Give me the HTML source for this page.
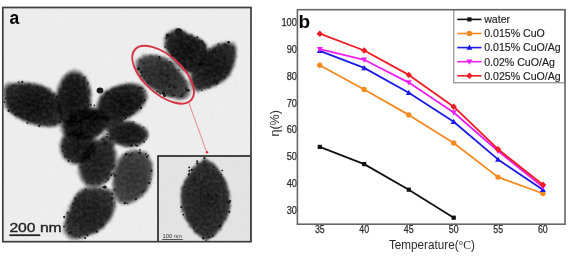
<!DOCTYPE html>
<html><head><meta charset="utf-8">
<style>
html,body{margin:0;padding:0;background:#fff;width:575px;height:258px;overflow:hidden;}
svg{display:block;will-change:transform;}
text{font-family:"Liberation Sans",sans-serif;}
</style></head>
<body>
<svg width="575" height="258" viewBox="0 0 575 258">
<defs>
<clipPath id="temclip"><rect x="2.8" y="7.5" width="248" height="234"/></clipPath>
<clipPath id="insclip"><rect x="158" y="156" width="93" height="86"/></clipPath>
<filter id="pb" color-interpolation-filters="sRGB" filterUnits="userSpaceOnUse" x="0" y="0" width="260" height="250"><feTurbulence type="fractalNoise" baseFrequency="0.35" numOctaves="2" seed="4" result="dn"/><feDisplacementMap in="SourceGraphic" in2="dn" scale="4" xChannelSelector="R" yChannelSelector="G" result="disp"/><feGaussianBlur in="disp" stdDeviation="1.0" result="bl"/><feTurbulence type="fractalNoise" baseFrequency="0.3" numOctaves="2" seed="11" result="tn"/><feColorMatrix in="tn" type="matrix" values="0 0 0 0 1  0 0 0 0 1  0 0 0 0 1  0.22 0 0 0 -0.08" result="wn"/><feComposite in="wn" in2="bl" operator="atop"/></filter>
<filter id="hb" color-interpolation-filters="sRGB" filterUnits="userSpaceOnUse" x="0" y="0" width="260" height="250"><feTurbulence type="fractalNoise" baseFrequency="0.5" numOctaves="2" seed="9" result="dn"/><feDisplacementMap in="SourceGraphic" in2="dn" scale="5" xChannelSelector="R" yChannelSelector="G" result="disp"/><feGaussianBlur in="disp" stdDeviation="1.2"/></filter>
<filter id="db" x="-50%" y="-50%" width="200%" height="200%"><feGaussianBlur stdDeviation="0.45"/></filter>
<filter id="noise" x="0" y="0" width="100%" height="100%"><feTurbulence type="fractalNoise" baseFrequency="0.9" numOctaves="2" seed="3"/><feColorMatrix type="matrix" values="0 0 0 0 0  0 0 0 0 0  0 0 0 0 0  0.33 0.33 0.33 0 -0.45"/></filter>
<radialGradient id="gA" cx="0.5" cy="0.5" r="0.5"><stop offset="0" stop-color="#0a0a0a"/><stop offset="0.75" stop-color="#161616"/><stop offset="1" stop-color="#222222"/></radialGradient>
<radialGradient id="gB" cx="0.5" cy="0.5" r="0.5"><stop offset="0" stop-color="#0a0a0a"/><stop offset="0.75" stop-color="#161616"/><stop offset="1" stop-color="#222222"/></radialGradient>
<radialGradient id="gM" cx="0.5" cy="0.5" r="0.5"><stop offset="0" stop-color="#0c0c0c"/><stop offset="0.75" stop-color="#131313"/><stop offset="1" stop-color="#1a1a1a"/></radialGradient>
<radialGradient id="gM2" cx="0.5" cy="0.5" r="0.5"><stop offset="0" stop-color="#101010"/><stop offset="0.75" stop-color="#181818"/><stop offset="1" stop-color="#202020"/></radialGradient>
<radialGradient id="gM3" cx="0.5" cy="0.5" r="0.5"><stop offset="0" stop-color="#303030"/><stop offset="0.75" stop-color="#404040"/><stop offset="1" stop-color="#505050"/></radialGradient>
<radialGradient id="gD" cx="0.5" cy="0.5" r="0.5"><stop offset="0" stop-color="#0a0a0a"/><stop offset="0.75" stop-color="#161616"/><stop offset="1" stop-color="#222222"/></radialGradient>
<radialGradient id="gH" cx="0.5" cy="0.5" r="0.5"><stop offset="0" stop-color="#0e0e0e"/><stop offset="0.75" stop-color="#1a1a1a"/><stop offset="1" stop-color="#262626"/></radialGradient>
<radialGradient id="gC" cx="0.5" cy="0.5" r="0.5"><stop offset="0" stop-color="#101010"/><stop offset="0.75" stop-color="#1b1b1b"/><stop offset="1" stop-color="#262626"/></radialGradient>
<radialGradient id="gE" cx="0.5" cy="0.5" r="0.5"><stop offset="0" stop-color="#161616"/><stop offset="0.75" stop-color="#212121"/><stop offset="1" stop-color="#2c2c2c"/></radialGradient>
<radialGradient id="gG" cx="0.5" cy="0.5" r="0.5"><stop offset="0" stop-color="#2c2c2c"/><stop offset="0.75" stop-color="#373737"/><stop offset="1" stop-color="#424242"/></radialGradient>
<radialGradient id="gF" cx="0.5" cy="0.5" r="0.5"><stop offset="0" stop-color="#161616"/><stop offset="0.75" stop-color="#212121"/><stop offset="1" stop-color="#2c2c2c"/></radialGradient>
<radialGradient id="gP1" cx="0.5" cy="0.5" r="0.5"><stop offset="0" stop-color="#242424"/><stop offset="0.75" stop-color="#2f2f2f"/><stop offset="1" stop-color="#3a3a3a"/></radialGradient>
<radialGradient id="gP2" cx="0.5" cy="0.5" r="0.5"><stop offset="0" stop-color="#0a0a0a"/><stop offset="0.75" stop-color="#161616"/><stop offset="1" stop-color="#222222"/></radialGradient>
<radialGradient id="gP3" cx="0.5" cy="0.5" r="0.5"><stop offset="0" stop-color="#0e0e0e"/><stop offset="0.75" stop-color="#1a1a1a"/><stop offset="1" stop-color="#262626"/></radialGradient>
<radialGradient id="gIN" cx="0.5" cy="0.5" r="0.5"><stop offset="0" stop-color="#1a1a1a"/><stop offset="0.75" stop-color="#242424"/><stop offset="1" stop-color="#3a3a3a"/></radialGradient>
</defs>

<!-- ===== TEM panel (a) ===== -->
<rect x="2.8" y="7.5" width="248" height="234" fill="#eeeeee"/>
<g clip-path="url(#temclip)">
<g filter="url(#hb)" style="isolation:isolate" opacity="0.85">
<path d="M4.5,92 C4,86 10,83.5 18,83.5 C30,83 44,85 52,92 C60,99 64,110 62,120 C60,127 50,126.5 40,125 C28,123 16,118 9,110 C5,104 4.5,98 4.5,92 Z" transform="translate(34 105) scale(1.08) translate(-34 -105)" fill="#7a7a7a" style="mix-blend-mode:multiply"/>
<ellipse cx="73.7" cy="100" rx="18.5" ry="30.5" transform="rotate(1.5 73.7 100)" fill="#7a7a7a" style="mix-blend-mode:multiply"/>
<ellipse cx="86" cy="124" rx="26.2" ry="16.7" transform="rotate(-15 86 124)" fill="#7a7a7a" style="mix-blend-mode:multiply"/>
<ellipse cx="93" cy="117" rx="9.3" ry="8.2" transform="rotate(0 93 117)" fill="#7a7a7a" style="mix-blend-mode:multiply"/>
<ellipse cx="108" cy="141" rx="8.2" ry="6.1" transform="rotate(20 108 141)" fill="#7a7a7a" style="mix-blend-mode:multiply"/>
<path d="M98.1,104.1 C98.6,100.9 100.5,97.8 102.4,95.3 C104.4,92.9 107.0,91.1 109.7,89.5 C112.4,88.0 115.3,86.9 118.4,86.0 C121.6,85.2 125.5,84.4 128.6,84.3 C131.8,84.2 134.9,84.3 137.3,85.2 C139.7,86.0 141.7,87.6 143.1,89.5 C144.6,91.5 146.0,94.4 146.0,96.8 C146.0,99.2 144.4,101.9 143.1,104.1 C141.9,106.2 140.7,107.9 138.8,109.9 C136.8,111.8 134.2,114.0 131.5,115.7 C128.8,117.4 125.7,118.8 122.8,120.1 C119.9,121.3 117.0,122.6 114.1,123.0 C111.2,123.3 107.8,123.5 105.3,122.1 C102.9,120.6 100.7,117.2 99.5,114.2 C98.3,111.2 97.6,107.2 98.1,104.1 Z" transform="translate(118.5 104.5) scale(1.08) translate(-118.5 -104.5)" fill="#7a7a7a" style="mix-blend-mode:multiply"/>
<path d="M108.3,125.9 C109.7,123.9 113.6,122.2 117.0,121.5 C120.4,120.8 125.2,121.0 128.6,121.5 C132.0,122.0 134.7,123.2 137.3,124.4 C140.0,125.6 142.9,127.1 144.6,128.8 C146.3,130.5 147.5,132.7 147.5,134.6 C147.5,136.5 146.3,138.7 144.6,140.4 C142.9,142.1 140.0,143.8 137.3,144.8 C134.7,145.7 131.5,146.2 128.6,146.2 C125.7,146.2 122.5,145.7 119.9,144.8 C117.2,143.8 114.6,142.3 112.6,140.4 C110.7,138.5 109.0,135.6 108.3,133.1 C107.5,130.7 106.8,127.8 108.3,125.9 Z" transform="translate(126.6 133.5) scale(1.08) translate(-126.6 -133.5)" fill="#7a7a7a" style="mix-blend-mode:multiply"/>
<ellipse cx="78.5" cy="146.5" rx="19.4" ry="18.8" transform="rotate(0 78.5 146.5)" fill="#7a7a7a" style="mix-blend-mode:multiply"/>
<ellipse cx="97.5" cy="163" rx="19.1" ry="25.8" transform="rotate(19.6 97.5 163)" fill="#7a7a7a" style="mix-blend-mode:multiply"/>
<path d="M140.7,152.2 C143.7,152.9 145.7,153.8 147.5,156.3 C149.3,158.8 151.1,163.1 151.6,167.2 C152.0,171.2 151.4,176.7 150.2,180.7 C149.1,184.8 147.3,188.4 144.8,191.6 C142.3,194.8 138.7,197.9 135.3,199.7 C131.9,201.5 127.6,202.9 124.4,202.4 C121.3,202.0 118.1,200.6 116.3,197.0 C114.5,193.4 113.1,186.8 113.6,180.7 C114.0,174.6 116.3,165.1 119.0,160.4 C121.7,155.6 126.2,153.6 129.9,152.2 C133.5,150.9 137.8,151.5 140.7,152.2 Z" transform="translate(132 176.5) scale(1.08) translate(-132 -176.5)" fill="#7a7a7a" style="mix-blend-mode:multiply"/>
<path d="M80.2,191.3 C82.3,189.9 84.8,189.2 87.7,188.8 C90.7,188.4 94.5,188.6 97.8,188.8 C101.2,189.0 105.4,189.0 107.9,190.1 C110.4,191.1 111.9,192.6 112.9,195.1 C114.0,197.6 114.4,201.8 114.2,205.2 C114.0,208.5 112.9,212.3 111.7,215.3 C110.4,218.2 108.5,220.5 106.6,222.8 C104.7,225.1 102.6,227.4 100.3,229.1 C98.0,230.8 95.7,231.6 92.8,232.9 C89.8,234.2 85.9,235.8 82.7,236.7 C79.6,237.5 76.4,238.4 73.9,237.9 C71.4,237.5 69.1,235.8 67.6,234.2 C66.1,232.5 65.3,230.6 65.1,227.9 C64.9,225.1 65.5,221.1 66.3,217.8 C67.2,214.4 68.6,211.1 70.1,207.7 C71.6,204.3 73.5,200.4 75.2,197.6 C76.8,194.9 78.1,192.8 80.2,191.3 Z" transform="translate(89.3 212.2) scale(1.08) translate(-89.3 -212.2)" fill="#7a7a7a" style="mix-blend-mode:multiply"/>
<path d="M137.2,63.8 C137.5,61.3 139.3,59.7 141.3,58.4 C143.3,57.0 146.3,55.9 149.5,55.7 C152.6,55.4 156.7,55.9 160.3,57.0 C163.9,58.2 168.0,60.0 171.2,62.5 C174.4,64.9 176.9,68.8 179.3,72.0 C181.8,75.1 184.6,78.3 186.1,81.5 C187.7,84.6 188.9,88.5 188.9,91.0 C188.9,93.5 188.2,95.2 186.1,96.4 C184.1,97.6 180.0,98.6 176.6,98.3 C173.2,98.1 169.4,96.5 165.8,95.1 C162.1,93.6 158.3,91.7 154.9,89.6 C151.5,87.6 147.9,85.6 145.4,82.8 C142.9,80.1 141.3,76.5 139.9,73.3 C138.6,70.2 137.0,66.3 137.2,63.8 Z" transform="translate(163.5 76.8) scale(1.08) translate(-163.5 -76.8)" fill="#7a7a7a" style="mix-blend-mode:multiply"/>
<path d="M166.2,37.1 C167.0,34.5 168.8,33.6 170.9,32.4 C172.9,31.2 176.0,29.8 178.6,29.9 C181.2,30.0 183.8,31.8 186.4,33.0 C188.9,34.2 191.5,35.7 194.1,37.1 C196.7,38.4 199.8,39.5 201.9,41.1 C203.9,42.6 205.5,44.2 206.5,46.4 C207.5,48.5 208.6,51.3 208.1,54.1 C207.5,57.0 205.2,60.8 203.4,63.4 C201.6,66.0 199.3,68.1 197.2,69.6 C195.1,71.2 193.3,72.7 191.0,72.7 C188.7,72.7 185.6,71.2 183.3,69.6 C180.9,68.1 179.1,65.7 177.1,63.4 C175.0,61.1 172.7,58.2 170.9,55.7 C169.0,53.1 167.0,51.0 166.2,47.9 C165.4,44.8 165.4,39.6 166.2,37.1 Z" transform="translate(187.7 50.8) scale(1.08) translate(-187.7 -50.8)" fill="#7a7a7a" style="mix-blend-mode:multiply"/>
<path d="M209.6,49.5 C212.7,46.9 215.8,45.8 218.9,44.8 C222.0,43.8 225.6,43.0 228.2,43.3 C230.8,43.5 233.3,44.5 234.4,46.4 C235.6,48.2 235.3,50.7 235.0,54.1 C234.8,57.5 234.3,62.6 232.9,66.5 C231.5,70.4 229.3,74.5 226.7,77.4 C224.1,80.2 220.7,81.8 217.4,83.6 C214.0,85.4 209.9,87.2 206.5,88.2 C203.2,89.3 199.5,90.3 197.2,89.8 C194.9,89.3 193.6,87.2 192.6,85.1 C191.5,83.0 190.7,79.9 191.0,77.4 C191.3,74.8 192.6,72.5 194.1,69.6 C195.7,66.8 197.7,63.7 200.3,60.3 C202.9,57.0 206.5,52.0 209.6,49.5 Z" transform="translate(213.9 66.6) scale(1.08) translate(-213.9 -66.6)" fill="#7a7a7a" style="mix-blend-mode:multiply"/>
</g>
<g filter="url(#pb)" style="isolation:isolate">
<path d="M4.5,92 C4,86 10,83.5 18,83.5 C30,83 44,85 52,92 C60,99 64,110 62,120 C60,127 50,126.5 40,125 C28,123 16,118 9,110 C5,104 4.5,98 4.5,92 Z" transform="translate(34 105) scale(0.98) translate(-34 -105)" fill="url(#gA)" style="mix-blend-mode:multiply"/>
<ellipse cx="73.7" cy="100" rx="16.2" ry="27.5" transform="rotate(1.5 73.7 100)" fill="url(#gB)" style="mix-blend-mode:multiply"/>
<ellipse cx="86" cy="124" rx="23.5" ry="14.5" transform="rotate(-15 86 124)" fill="url(#gM)" style="mix-blend-mode:multiply"/>
<ellipse cx="93" cy="117" rx="7.5" ry="6.5" transform="rotate(0 93 117)" fill="url(#gM2)" style="mix-blend-mode:multiply"/>
<ellipse cx="108" cy="141" rx="6.5" ry="4.5" transform="rotate(20 108 141)" fill="url(#gM3)" style="mix-blend-mode:multiply"/>
<path d="M98.1,104.1 C98.6,100.9 100.5,97.8 102.4,95.3 C104.4,92.9 107.0,91.1 109.7,89.5 C112.4,88.0 115.3,86.9 118.4,86.0 C121.6,85.2 125.5,84.4 128.6,84.3 C131.8,84.2 134.9,84.3 137.3,85.2 C139.7,86.0 141.7,87.6 143.1,89.5 C144.6,91.5 146.0,94.4 146.0,96.8 C146.0,99.2 144.4,101.9 143.1,104.1 C141.9,106.2 140.7,107.9 138.8,109.9 C136.8,111.8 134.2,114.0 131.5,115.7 C128.8,117.4 125.7,118.8 122.8,120.1 C119.9,121.3 117.0,122.6 114.1,123.0 C111.2,123.3 107.8,123.5 105.3,122.1 C102.9,120.6 100.7,117.2 99.5,114.2 C98.3,111.2 97.6,107.2 98.1,104.1 Z" transform="translate(118.5 104.5) scale(0.98) translate(-118.5 -104.5)" fill="url(#gD)" style="mix-blend-mode:multiply"/>
<path d="M108.3,125.9 C109.7,123.9 113.6,122.2 117.0,121.5 C120.4,120.8 125.2,121.0 128.6,121.5 C132.0,122.0 134.7,123.2 137.3,124.4 C140.0,125.6 142.9,127.1 144.6,128.8 C146.3,130.5 147.5,132.7 147.5,134.6 C147.5,136.5 146.3,138.7 144.6,140.4 C142.9,142.1 140.0,143.8 137.3,144.8 C134.7,145.7 131.5,146.2 128.6,146.2 C125.7,146.2 122.5,145.7 119.9,144.8 C117.2,143.8 114.6,142.3 112.6,140.4 C110.7,138.5 109.0,135.6 108.3,133.1 C107.5,130.7 106.8,127.8 108.3,125.9 Z" transform="translate(126.6 133.5) scale(0.98) translate(-126.6 -133.5)" fill="url(#gH)" style="mix-blend-mode:multiply"/>
<ellipse cx="78.5" cy="146.5" rx="17.0" ry="16.5" transform="rotate(0 78.5 146.5)" fill="url(#gC)" style="mix-blend-mode:multiply"/>
<ellipse cx="97.5" cy="163" rx="16.8" ry="23.1" transform="rotate(19.6 97.5 163)" fill="url(#gE)" style="mix-blend-mode:multiply"/>
<path d="M140.7,152.2 C143.7,152.9 145.7,153.8 147.5,156.3 C149.3,158.8 151.1,163.1 151.6,167.2 C152.0,171.2 151.4,176.7 150.2,180.7 C149.1,184.8 147.3,188.4 144.8,191.6 C142.3,194.8 138.7,197.9 135.3,199.7 C131.9,201.5 127.6,202.9 124.4,202.4 C121.3,202.0 118.1,200.6 116.3,197.0 C114.5,193.4 113.1,186.8 113.6,180.7 C114.0,174.6 116.3,165.1 119.0,160.4 C121.7,155.6 126.2,153.6 129.9,152.2 C133.5,150.9 137.8,151.5 140.7,152.2 Z" transform="translate(132 176.5) scale(0.98) translate(-132 -176.5)" fill="url(#gG)" style="mix-blend-mode:multiply"/>
<path d="M80.2,191.3 C82.3,189.9 84.8,189.2 87.7,188.8 C90.7,188.4 94.5,188.6 97.8,188.8 C101.2,189.0 105.4,189.0 107.9,190.1 C110.4,191.1 111.9,192.6 112.9,195.1 C114.0,197.6 114.4,201.8 114.2,205.2 C114.0,208.5 112.9,212.3 111.7,215.3 C110.4,218.2 108.5,220.5 106.6,222.8 C104.7,225.1 102.6,227.4 100.3,229.1 C98.0,230.8 95.7,231.6 92.8,232.9 C89.8,234.2 85.9,235.8 82.7,236.7 C79.6,237.5 76.4,238.4 73.9,237.9 C71.4,237.5 69.1,235.8 67.6,234.2 C66.1,232.5 65.3,230.6 65.1,227.9 C64.9,225.1 65.5,221.1 66.3,217.8 C67.2,214.4 68.6,211.1 70.1,207.7 C71.6,204.3 73.5,200.4 75.2,197.6 C76.8,194.9 78.1,192.8 80.2,191.3 Z" transform="translate(89.3 212.2) scale(0.98) translate(-89.3 -212.2)" fill="url(#gF)" style="mix-blend-mode:multiply"/>
<path d="M137.2,63.8 C137.5,61.3 139.3,59.7 141.3,58.4 C143.3,57.0 146.3,55.9 149.5,55.7 C152.6,55.4 156.7,55.9 160.3,57.0 C163.9,58.2 168.0,60.0 171.2,62.5 C174.4,64.9 176.9,68.8 179.3,72.0 C181.8,75.1 184.6,78.3 186.1,81.5 C187.7,84.6 188.9,88.5 188.9,91.0 C188.9,93.5 188.2,95.2 186.1,96.4 C184.1,97.6 180.0,98.6 176.6,98.3 C173.2,98.1 169.4,96.5 165.8,95.1 C162.1,93.6 158.3,91.7 154.9,89.6 C151.5,87.6 147.9,85.6 145.4,82.8 C142.9,80.1 141.3,76.5 139.9,73.3 C138.6,70.2 137.0,66.3 137.2,63.8 Z" transform="translate(163.5 76.8) scale(0.98) translate(-163.5 -76.8)" fill="url(#gP1)" style="mix-blend-mode:multiply"/>
<path d="M166.2,37.1 C167.0,34.5 168.8,33.6 170.9,32.4 C172.9,31.2 176.0,29.8 178.6,29.9 C181.2,30.0 183.8,31.8 186.4,33.0 C188.9,34.2 191.5,35.7 194.1,37.1 C196.7,38.4 199.8,39.5 201.9,41.1 C203.9,42.6 205.5,44.2 206.5,46.4 C207.5,48.5 208.6,51.3 208.1,54.1 C207.5,57.0 205.2,60.8 203.4,63.4 C201.6,66.0 199.3,68.1 197.2,69.6 C195.1,71.2 193.3,72.7 191.0,72.7 C188.7,72.7 185.6,71.2 183.3,69.6 C180.9,68.1 179.1,65.7 177.1,63.4 C175.0,61.1 172.7,58.2 170.9,55.7 C169.0,53.1 167.0,51.0 166.2,47.9 C165.4,44.8 165.4,39.6 166.2,37.1 Z" transform="translate(187.7 50.8) scale(0.98) translate(-187.7 -50.8)" fill="url(#gP2)" style="mix-blend-mode:multiply"/>
<path d="M209.6,49.5 C212.7,46.9 215.8,45.8 218.9,44.8 C222.0,43.8 225.6,43.0 228.2,43.3 C230.8,43.5 233.3,44.5 234.4,46.4 C235.6,48.2 235.3,50.7 235.0,54.1 C234.8,57.5 234.3,62.6 232.9,66.5 C231.5,70.4 229.3,74.5 226.7,77.4 C224.1,80.2 220.7,81.8 217.4,83.6 C214.0,85.4 209.9,87.2 206.5,88.2 C203.2,89.3 199.5,90.3 197.2,89.8 C194.9,89.3 193.6,87.2 192.6,85.1 C191.5,83.0 190.7,79.9 191.0,77.4 C191.3,74.8 192.6,72.5 194.1,69.6 C195.7,66.8 197.7,63.7 200.3,60.3 C202.9,57.0 206.5,52.0 209.6,49.5 Z" transform="translate(213.9 66.6) scale(0.98) translate(-213.9 -66.6)" fill="url(#gP3)" style="mix-blend-mode:multiply"/>
</g>
<g fill="#1a1a1a" filter="url(#db)">
<circle cx="15.7" cy="114.2" r="1.50"/>
<circle cx="8.8" cy="89.3" r="0.58"/>
<circle cx="59.3" cy="121.0" r="0.95"/>
<circle cx="3.8" cy="101.5" r="0.62"/>
<circle cx="18.7" cy="82.3" r="0.90"/>
<circle cx="60.7" cy="114.1" r="1.07"/>
<circle cx="44.6" cy="124.8" r="0.74"/>
<circle cx="39.0" cy="126.2" r="0.93"/>
<circle cx="11.2" cy="89.2" r="0.59"/>
<circle cx="29.1" cy="84.4" r="0.74"/>
<circle cx="5.8" cy="98.2" r="1.03"/>
<circle cx="27.3" cy="122.9" r="0.87"/>
<circle cx="37.8" cy="87.0" r="1.14"/>
<circle cx="4.4" cy="102.4" r="0.64"/>
<circle cx="60.2" cy="121.9" r="1.01"/>
<circle cx="58.6" cy="101.9" r="0.97"/>
<circle cx="13.1" cy="85.9" r="1.05"/>
<circle cx="4.1" cy="95.1" r="0.59"/>
<circle cx="22.2" cy="81.9" r="1.04"/>
<circle cx="6.9" cy="106.9" r="0.56"/>
<circle cx="40.7" cy="124.7" r="0.59"/>
<circle cx="47.2" cy="125.2" r="0.78"/>
<circle cx="54.8" cy="124.1" r="0.88"/>
<circle cx="54.0" cy="94.0" r="0.72"/>
<circle cx="8.6" cy="110.8" r="1.12"/>
<circle cx="39.5" cy="125.0" r="0.69"/>
<circle cx="61.0" cy="85.9" r="0.55"/>
<circle cx="62.1" cy="119.7" r="1.12"/>
<circle cx="57.4" cy="96.9" r="1.53"/>
<circle cx="87.8" cy="83.6" r="1.07"/>
<circle cx="60.9" cy="116.3" r="0.61"/>
<circle cx="87.2" cy="109.9" r="0.68"/>
<circle cx="65.2" cy="120.8" r="0.55"/>
<circle cx="85.9" cy="116.0" r="0.57"/>
<circle cx="62.7" cy="83.1" r="0.70"/>
<circle cx="63.3" cy="118.7" r="1.06"/>
<circle cx="57.9" cy="105.3" r="0.60"/>
<circle cx="64.6" cy="121.4" r="1.05"/>
<circle cx="90.8" cy="104.7" r="0.87"/>
<circle cx="59.6" cy="93.0" r="0.87"/>
<circle cx="85.1" cy="79.1" r="0.71"/>
<circle cx="81.5" cy="124.8" r="0.87"/>
<circle cx="65.8" cy="122.3" r="1.04"/>
<circle cx="84.5" cy="77.5" r="1.04"/>
<circle cx="75.4" cy="126.9" r="1.22"/>
<circle cx="88.8" cy="104.9" r="0.71"/>
<circle cx="140.5" cy="88.0" r="1.11"/>
<circle cx="140.1" cy="88.2" r="0.68"/>
<circle cx="133.1" cy="113.1" r="0.92"/>
<circle cx="125.7" cy="85.4" r="0.94"/>
<circle cx="144.7" cy="100.2" r="1.10"/>
<circle cx="111.0" cy="90.3" r="0.66"/>
<circle cx="112.2" cy="124.5" r="1.13"/>
<circle cx="101.1" cy="125.1" r="0.98"/>
<circle cx="140.0" cy="105.4" r="1.09"/>
<circle cx="141.0" cy="108.0" r="1.14"/>
<circle cx="109.6" cy="124.0" r="1.01"/>
<circle cx="142.5" cy="88.4" r="0.87"/>
<circle cx="97.2" cy="123.6" r="1.05"/>
<circle cx="125.5" cy="118.4" r="0.69"/>
<circle cx="124.4" cy="119.3" r="0.63"/>
<circle cx="109.3" cy="123.7" r="0.90"/>
<circle cx="98.6" cy="124.3" r="0.85"/>
<circle cx="94.7" cy="114.6" r="0.81"/>
<circle cx="145.2" cy="90.9" r="0.65"/>
<circle cx="107.1" cy="92.4" r="0.75"/>
<circle cx="91.0" cy="112.5" r="0.61"/>
<circle cx="125.9" cy="118.1" r="1.01"/>
<circle cx="91.1" cy="111.7" r="1.10"/>
<circle cx="94.4" cy="105.3" r="0.86"/>
<circle cx="107.1" cy="134.2" r="0.84"/>
<circle cx="121.8" cy="120.4" r="1.12"/>
<circle cx="107.5" cy="125.8" r="1.05"/>
<circle cx="139.5" cy="143.8" r="0.59"/>
<circle cx="144.0" cy="141.7" r="1.02"/>
<circle cx="136.6" cy="145.5" r="0.95"/>
<circle cx="143.8" cy="127.2" r="0.68"/>
<circle cx="109.7" cy="138.2" r="1.14"/>
<circle cx="135.4" cy="145.1" r="0.86"/>
<circle cx="131.3" cy="145.3" r="1.57"/>
<circle cx="108.8" cy="126.8" r="0.56"/>
<circle cx="113.8" cy="123.0" r="0.59"/>
<circle cx="133.6" cy="121.7" r="0.61"/>
<circle cx="146.2" cy="139.6" r="0.71"/>
<circle cx="107.0" cy="136.7" r="1.04"/>
<circle cx="137.6" cy="145.7" r="0.89"/>
<circle cx="91.7" cy="154.6" r="0.96"/>
<circle cx="94.8" cy="154.3" r="0.93"/>
<circle cx="94.0" cy="155.3" r="0.59"/>
<circle cx="62.8" cy="151.1" r="0.88"/>
<circle cx="76.7" cy="161.7" r="0.87"/>
<circle cx="90.8" cy="156.3" r="0.58"/>
<circle cx="72.3" cy="161.2" r="1.01"/>
<circle cx="62.6" cy="146.5" r="1.21"/>
<circle cx="78.5" cy="161.5" r="0.99"/>
<circle cx="84.7" cy="161.7" r="1.11"/>
<circle cx="85.5" cy="131.8" r="0.85"/>
<circle cx="65.3" cy="156.7" r="0.96"/>
<circle cx="68.7" cy="161.0" r="0.97"/>
<circle cx="64.9" cy="155.5" r="0.58"/>
<circle cx="108.9" cy="177.9" r="0.70"/>
<circle cx="107.8" cy="179.6" r="1.07"/>
<circle cx="87.4" cy="182.0" r="0.73"/>
<circle cx="99.7" cy="183.8" r="0.71"/>
<circle cx="114.4" cy="164.9" r="0.70"/>
<circle cx="85.0" cy="180.5" r="0.55"/>
<circle cx="80.8" cy="160.9" r="0.67"/>
<circle cx="112.3" cy="169.0" r="0.60"/>
<circle cx="109.6" cy="173.0" r="0.73"/>
<circle cx="87.9" cy="147.1" r="1.00"/>
<circle cx="101.9" cy="139.4" r="0.78"/>
<circle cx="112.9" cy="166.3" r="0.98"/>
<circle cx="111.3" cy="174.9" r="1.09"/>
<circle cx="103.8" cy="139.9" r="0.63"/>
<circle cx="81.1" cy="156.4" r="1.03"/>
<circle cx="87.1" cy="146.3" r="0.96"/>
<circle cx="92.4" cy="183.2" r="0.63"/>
<circle cx="105.7" cy="181.6" r="0.89"/>
<circle cx="126.1" cy="154.4" r="1.35"/>
<circle cx="145.7" cy="154.2" r="0.85"/>
<circle cx="130.3" cy="154.7" r="0.99"/>
<circle cx="142.6" cy="192.0" r="0.99"/>
<circle cx="140.1" cy="149.9" r="0.85"/>
<circle cx="113.7" cy="173.8" r="1.01"/>
<circle cx="128.5" cy="155.6" r="0.64"/>
<circle cx="139.5" cy="152.9" r="1.43"/>
<circle cx="143.9" cy="190.4" r="0.95"/>
<circle cx="132.1" cy="153.1" r="0.86"/>
<circle cx="115.1" cy="175.9" r="1.09"/>
<circle cx="151.1" cy="179.2" r="0.56"/>
<circle cx="148.1" cy="155.5" r="0.82"/>
<circle cx="127.6" cy="203.4" r="0.68"/>
<circle cx="135.9" cy="199.1" r="1.12"/>
<circle cx="146.9" cy="157.1" r="1.08"/>
<circle cx="125.0" cy="203.0" r="1.35"/>
<circle cx="148.5" cy="182.9" r="0.82"/>
<circle cx="135.9" cy="198.3" r="0.74"/>
<circle cx="149.4" cy="182.9" r="1.05"/>
<circle cx="151.5" cy="170.8" r="1.09"/>
<circle cx="114.6" cy="189.6" r="1.15"/>
<circle cx="87.4" cy="235.3" r="1.14"/>
<circle cx="114.7" cy="202.8" r="0.72"/>
<circle cx="102.7" cy="224.7" r="0.86"/>
<circle cx="85.2" cy="238.0" r="1.08"/>
<circle cx="64.1" cy="217.1" r="1.11"/>
<circle cx="73.3" cy="204.0" r="0.99"/>
<circle cx="75.4" cy="198.4" r="1.15"/>
<circle cx="99.9" cy="189.4" r="0.83"/>
<circle cx="97.1" cy="231.7" r="1.14"/>
<circle cx="67.6" cy="212.9" r="0.88"/>
<circle cx="109.8" cy="213.2" r="0.67"/>
<circle cx="70.9" cy="232.2" r="1.09"/>
<circle cx="75.9" cy="234.5" r="1.06"/>
<circle cx="90.2" cy="232.9" r="0.69"/>
<circle cx="64.1" cy="226.4" r="1.00"/>
<circle cx="79.6" cy="236.9" r="0.78"/>
<circle cx="111.8" cy="198.5" r="1.13"/>
<circle cx="69.0" cy="233.2" r="1.07"/>
<circle cx="100.0" cy="227.2" r="0.79"/>
<circle cx="105.0" cy="187.1" r="1.72"/>
<circle cx="112.1" cy="193.8" r="1.09"/>
<circle cx="67.4" cy="222.2" r="0.78"/>
<circle cx="85.7" cy="189.7" r="1.13"/>
<circle cx="111.8" cy="204.9" r="0.86"/>
<circle cx="103.1" cy="187.1" r="0.94"/>
<circle cx="74.0" cy="235.9" r="0.57"/>
<circle cx="157.0" cy="91.4" r="0.94"/>
<circle cx="172.6" cy="95.9" r="0.93"/>
<circle cx="174.3" cy="95.5" r="0.86"/>
<circle cx="141.8" cy="72.2" r="1.46"/>
<circle cx="148.2" cy="82.8" r="1.13"/>
<circle cx="186.0" cy="81.1" r="0.69"/>
<circle cx="188.4" cy="90.3" r="1.18"/>
<circle cx="140.1" cy="60.0" r="0.80"/>
<circle cx="159.5" cy="57.0" r="1.10"/>
<circle cx="144.5" cy="78.2" r="0.96"/>
<circle cx="179.0" cy="70.0" r="0.85"/>
<circle cx="186.6" cy="90.3" r="1.04"/>
<circle cx="158.9" cy="92.1" r="0.73"/>
<circle cx="141.9" cy="61.6" r="0.68"/>
<circle cx="159.1" cy="56.8" r="0.64"/>
<circle cx="160.1" cy="93.4" r="1.02"/>
<circle cx="181.0" cy="96.1" r="1.09"/>
<circle cx="170.2" cy="62.0" r="1.11"/>
<circle cx="164.6" cy="95.5" r="1.60"/>
<circle cx="159.4" cy="58.6" r="0.77"/>
<circle cx="166.7" cy="93.6" r="0.72"/>
<circle cx="186.0" cy="88.5" r="1.13"/>
<circle cx="141.5" cy="75.8" r="1.04"/>
<circle cx="182.4" cy="96.0" r="0.77"/>
<circle cx="163.4" cy="93.3" r="1.74"/>
<circle cx="138.4" cy="68.8" r="1.62"/>
<circle cx="182.2" cy="94.0" r="1.10"/>
<circle cx="172.3" cy="63.8" r="0.75"/>
<circle cx="188.1" cy="89.8" r="0.71"/>
<circle cx="147.1" cy="80.8" r="0.55"/>
<circle cx="209.3" cy="56.8" r="1.79"/>
<circle cx="180.3" cy="64.7" r="1.12"/>
<circle cx="168.1" cy="48.5" r="0.81"/>
<circle cx="207.7" cy="57.6" r="1.03"/>
<circle cx="205.3" cy="45.5" r="0.91"/>
<circle cx="171.6" cy="56.1" r="1.63"/>
<circle cx="184.8" cy="68.1" r="1.12"/>
<circle cx="204.4" cy="67.4" r="0.75"/>
<circle cx="209.8" cy="53.1" r="1.13"/>
<circle cx="197.9" cy="69.6" r="0.98"/>
<circle cx="180.3" cy="64.5" r="0.92"/>
<circle cx="197.4" cy="37.2" r="0.95"/>
<circle cx="205.2" cy="47.9" r="0.89"/>
<circle cx="195.2" cy="37.9" r="0.70"/>
<circle cx="191.0" cy="70.5" r="0.90"/>
<circle cx="165.1" cy="46.9" r="0.85"/>
<circle cx="203.7" cy="43.9" r="1.14"/>
<circle cx="166.4" cy="38.2" r="1.05"/>
<circle cx="203.1" cy="67.0" r="0.62"/>
<circle cx="208.3" cy="62.8" r="1.11"/>
<circle cx="218.1" cy="45.8" r="0.71"/>
<circle cx="226.8" cy="45.9" r="0.91"/>
<circle cx="228.1" cy="72.5" r="0.63"/>
<circle cx="224.5" cy="77.7" r="0.94"/>
<circle cx="232.7" cy="48.0" r="0.96"/>
<circle cx="216.8" cy="82.8" r="1.03"/>
<circle cx="233.8" cy="53.2" r="0.79"/>
<circle cx="195.0" cy="71.2" r="0.65"/>
<circle cx="204.5" cy="88.1" r="0.73"/>
<circle cx="217.0" cy="83.9" r="0.76"/>
<circle cx="218.2" cy="43.9" r="0.77"/>
<circle cx="201.1" cy="59.6" r="0.55"/>
<circle cx="201.8" cy="90.3" r="0.79"/>
<circle cx="199.4" cy="87.2" r="0.56"/>
<circle cx="192.1" cy="71.7" r="0.60"/>
<circle cx="209.1" cy="87.8" r="0.64"/>
<circle cx="192.5" cy="86.4" r="0.62"/>
<circle cx="209.5" cy="48.8" r="0.67"/>
<circle cx="228.6" cy="42.4" r="1.34"/>
<circle cx="225.4" cy="44.6" r="1.09"/>
<ellipse cx="100" cy="90.5" rx="3.4" ry="3"/>
<circle cx="167.6" cy="76.1" r="0.99"/>
<circle cx="145.6" cy="71.6" r="1.01"/>
<circle cx="161.9" cy="83.0" r="0.86"/>
<circle cx="166.5" cy="82.7" r="0.96"/>
<circle cx="174.1" cy="87.0" r="1.57"/>
<circle cx="167.3" cy="76.5" r="0.90"/>
<circle cx="160.2" cy="70.0" r="0.81"/>
<circle cx="148.7" cy="71.0" r="0.82"/>
<circle cx="175.9" cy="87.3" r="0.84"/>
<circle cx="171.0" cy="69.4" r="0.83"/>
<circle cx="159.1" cy="74.1" r="0.66"/>
<circle cx="169.9" cy="85.9" r="1.37"/>
<circle cx="162.1" cy="73.5" r="0.97"/>
<circle cx="160.3" cy="74.3" r="0.85"/>
<circle cx="168.6" cy="79.3" r="1.03"/>
<circle cx="167.9" cy="66.7" r="0.70"/>
<circle cx="144.0" cy="63.4" r="1.06"/>
<circle cx="174.9" cy="70.5" r="0.63"/>
<circle cx="165.7" cy="74.3" r="1.05"/>
<circle cx="167.2" cy="75.9" r="0.85"/>
<circle cx="162.7" cy="81.6" r="0.85"/>
<circle cx="168.4" cy="81.4" r="0.68"/>
<circle cx="162.0" cy="62.6" r="0.68"/>
<circle cx="169.3" cy="87.2" r="0.92"/>
<circle cx="175.3" cy="78.4" r="0.89"/>
<circle cx="174.6" cy="94.5" r="0.91"/>
<circle cx="168.1" cy="74.8" r="1.10"/>
<circle cx="148.8" cy="75.8" r="0.82"/>
<circle cx="178.6" cy="31.8" r="3.6"/><circle cx="167.8" cy="35.5" r="2"/><circle cx="201.9" cy="41.7" r="1.5"/>
</g>
<ellipse cx="104.6" cy="133.2" rx="2" ry="2" fill="#a0a0a0" filter="url(#db)"/>
<rect x="158" y="156" width="93" height="86" fill="#e4e4e4"/>
<g clip-path="url(#insclip)">
<path d="M205,158.5 C217,163.5 228.5,180 230.5,198 C232,216 220,234 207,240.5 C194,235 181,218 180.5,200 C180,183 192,165 205,158.5 Z" fill="url(#gIN)" filter="url(#pb)"/>
<g fill="#111" filter="url(#db)">
<circle cx="204.7" cy="165.6" r="1.07"/>
<circle cx="189.2" cy="167.5" r="0.91"/>
<circle cx="197.7" cy="230.5" r="0.52"/>
<circle cx="188.7" cy="174.7" r="0.86"/>
<circle cx="220.0" cy="225.7" r="1.53"/>
<circle cx="227.7" cy="200.1" r="0.57"/>
<circle cx="209.3" cy="237.4" r="0.91"/>
<circle cx="189.3" cy="173.2" r="0.59"/>
<circle cx="206.4" cy="234.3" r="0.57"/>
<circle cx="222.3" cy="170.5" r="0.78"/>
<circle cx="229.1" cy="202.3" r="0.89"/>
<circle cx="191.7" cy="170.0" r="1.16"/>
<circle cx="205.7" cy="240.6" r="0.53"/>
<circle cx="187.6" cy="219.3" r="0.54"/>
<circle cx="228.6" cy="202.5" r="1.16"/>
<circle cx="212.8" cy="236.2" r="0.85"/>
<circle cx="213.8" cy="167.2" r="0.72"/>
<circle cx="229.2" cy="211.8" r="1.05"/>
<circle cx="230.1" cy="201.1" r="1.02"/>
<circle cx="204.3" cy="162.2" r="0.66"/>
<circle cx="207.8" cy="233.2" r="0.73"/>
<circle cx="197.2" cy="161.3" r="1.00"/>
<circle cx="184.2" cy="187.2" r="1.05"/>
<circle cx="203.2" cy="238.2" r="1.18"/>
<circle cx="220.4" cy="176.4" r="0.68"/>
<circle cx="204.5" cy="158.1" r="1.02"/>
<circle cx="221.6" cy="174.7" r="0.67"/>
<circle cx="189.2" cy="170.7" r="0.97"/>
<circle cx="181.3" cy="207.2" r="0.99"/>
<circle cx="183.3" cy="214.7" r="0.90"/>
<circle cx="211.1" cy="237.1" r="0.55"/>
<circle cx="218.1" cy="226.2" r="0.57"/>
<circle cx="193.6" cy="228.3" r="0.83"/>
<circle cx="197.2" cy="163.2" r="0.99"/>
<circle cx="216.8" cy="207.6" r="0.68"/>
<circle cx="212.9" cy="173.6" r="0.53"/>
<circle cx="221.2" cy="184.1" r="0.55"/>
<circle cx="207.8" cy="202.7" r="0.92"/>
<circle cx="194.7" cy="179.5" r="0.82"/>
<circle cx="208.8" cy="203.4" r="0.88"/>
<circle cx="201.5" cy="213.7" r="0.51"/>
<circle cx="202.6" cy="222.7" r="0.68"/>
<circle cx="216.1" cy="195.5" r="0.93"/>
<circle cx="214.7" cy="202.5" r="0.72"/>
<circle cx="197.4" cy="218.7" r="0.77"/>
<circle cx="208.0" cy="194.6" r="0.91"/>
<circle cx="211.3" cy="199.6" r="0.88"/>
<circle cx="216.1" cy="200.0" r="0.75"/>
<circle cx="209.8" cy="215.7" r="0.67"/>
<circle cx="204.3" cy="229.5" r="0.64"/>
<circle cx="202.1" cy="182.7" r="0.55"/>
<circle cx="219.2" cy="212.0" r="0.85"/>
<circle cx="199.7" cy="189.6" r="0.70"/>
<circle cx="208.5" cy="195.5" r="1.51"/>
</g>
</g>
<rect x="158" y="156" width="93" height="86" fill="none" stroke="#1e1e1e" stroke-width="1.6"/>
<text x="162.5" y="237.9" font-size="5.4" fill="#333" textLength="19.2" lengthAdjust="spacingAndGlyphs">100 nm</text>
<line x1="162.2" y1="239.5" x2="182.8" y2="239.5" stroke="#333" stroke-width="0.8"/>
<rect x="2.8" y="7.5" width="248" height="234" filter="url(#noise)" opacity="0.1"/>
<ellipse cx="163.1" cy="74.7" rx="37.8" ry="19" transform="rotate(41.8 163.1 74.7)" fill="none" stroke="#d43444" stroke-width="1.9"/>
<line x1="188.8" y1="102.5" x2="206.6" y2="152" stroke="#e06060" stroke-width="0.7"/>
<circle cx="207" cy="152.3" r="1.2" fill="#e03040"/>
</g>
<rect x="2.8" y="7.5" width="248.2" height="234.2" fill="none" stroke="#3c3c3c" stroke-width="1.7"/>
<text x="9.6" y="24" font-size="17.5" font-weight="bold" fill="#000">a</text>
<text x="9.4" y="231.5" font-size="12.8" fill="#222" stroke="#222" stroke-width="0.35" textLength="52.3" lengthAdjust="spacingAndGlyphs">200 nm</text>
<line x1="9.3" y1="235.2" x2="40.3" y2="235.2" stroke="#222" stroke-width="1.8"/>

<!-- ===== Chart panel (b) ===== -->
<text x="298.6" y="28.2" font-size="19" font-weight="bold" fill="#000">b</text>

<!-- y tick labels -->
<g font-size="10.8" fill="#2a2a2a" stroke="#2a2a2a" stroke-width="0.25" text-anchor="end">
  <text x="297" y="26.1" textLength="15.6" lengthAdjust="spacingAndGlyphs">100</text>
  <text x="297" y="52.9" textLength="10.3" lengthAdjust="spacingAndGlyphs">90</text>
  <text x="297" y="79.7" textLength="10.3" lengthAdjust="spacingAndGlyphs">80</text>
  <text x="297" y="106.5" textLength="10.3" lengthAdjust="spacingAndGlyphs">70</text>
  <text x="297" y="133.3" textLength="10.3" lengthAdjust="spacingAndGlyphs">60</text>
  <text x="297" y="160.0" textLength="10.3" lengthAdjust="spacingAndGlyphs">50</text>
  <text x="297" y="186.8" textLength="10.3" lengthAdjust="spacingAndGlyphs">40</text>
  <text x="297" y="213.6" textLength="10.3" lengthAdjust="spacingAndGlyphs">30</text>
</g>
<!-- x tick labels -->
<g font-size="10.6" fill="#2a2a2a" stroke="#2a2a2a" stroke-width="0.25" text-anchor="middle">
  <text x="319.8" y="232.7" textLength="9.8" lengthAdjust="spacingAndGlyphs">35</text>
  <text x="364.2" y="232.7" textLength="9.8" lengthAdjust="spacingAndGlyphs">40</text>
  <text x="408.7" y="232.7" textLength="9.8" lengthAdjust="spacingAndGlyphs">45</text>
  <text x="453.7" y="232.7" textLength="9.8" lengthAdjust="spacingAndGlyphs">50</text>
  <text x="498.2" y="232.7" textLength="9.8" lengthAdjust="spacingAndGlyphs">55</text>
  <text x="542.8" y="232.7" textLength="9.8" lengthAdjust="spacingAndGlyphs">60</text>
</g>
<text x="389" y="249.3" font-size="12.2" fill="#2a2a2a" textLength="86" lengthAdjust="spacingAndGlyphs">Temperature(<tspan font-family="Liberation Serif">°C</tspan>)</text>
<text transform="translate(278.9,136.6) rotate(-90)" font-size="12.6" fill="#333" font-family="Liberation Serif">η(%)</text>

<!-- series -->
<polyline fill="none" stroke="#f5891e" stroke-width="1.8" stroke-linejoin="round" points="319.80,65.30 364.20,89.50 408.80,114.90 453.70,143.00 498.00,177.10 542.90,193.50"/>
<circle cx="319.80" cy="65.30" r="2.7" fill="#f5891e"/>
<circle cx="364.20" cy="89.50" r="2.7" fill="#f5891e"/>
<circle cx="408.80" cy="114.90" r="2.7" fill="#f5891e"/>
<circle cx="453.70" cy="143.00" r="2.7" fill="#f5891e"/>
<circle cx="498.00" cy="177.10" r="2.7" fill="#f5891e"/>
<circle cx="542.90" cy="193.50" r="2.7" fill="#f5891e"/>
<polyline fill="none" stroke="#1a1ae6" stroke-width="1.8" stroke-linejoin="round" points="319.80,50.80 364.20,67.90 408.80,92.80 453.70,121.80 498.00,159.40 542.90,189.80"/>
<path d="M319.80,47.80 L322.80,53.05 L316.80,53.05 Z" fill="#1a1ae6"/>
<path d="M364.20,64.90 L367.20,70.15 L361.20,70.15 Z" fill="#1a1ae6"/>
<path d="M408.80,89.80 L411.80,95.05 L405.80,95.05 Z" fill="#1a1ae6"/>
<path d="M453.70,118.80 L456.70,124.05 L450.70,124.05 Z" fill="#1a1ae6"/>
<path d="M498.00,156.40 L501.00,161.65 L495.00,161.65 Z" fill="#1a1ae6"/>
<path d="M542.90,186.80 L545.90,192.05 L539.90,192.05 Z" fill="#1a1ae6"/>
<polyline fill="none" stroke="#f01ef0" stroke-width="1.8" stroke-linejoin="round" points="319.80,49.20 364.20,59.80 408.80,82.60 453.70,112.50 498.00,151.00 542.90,187.00"/>
<path d="M319.80,52.20 L322.80,46.95 L316.80,46.95 Z" fill="#f01ef0"/>
<path d="M364.20,62.80 L367.20,57.55 L361.20,57.55 Z" fill="#f01ef0"/>
<path d="M408.80,85.60 L411.80,80.35 L405.80,80.35 Z" fill="#f01ef0"/>
<path d="M453.70,115.50 L456.70,110.25 L450.70,110.25 Z" fill="#f01ef0"/>
<path d="M498.00,154.00 L501.00,148.75 L495.00,148.75 Z" fill="#f01ef0"/>
<path d="M542.90,190.00 L545.90,184.75 L539.90,184.75 Z" fill="#f01ef0"/>
<polyline fill="none" stroke="#ee1c24" stroke-width="1.8" stroke-linejoin="round" points="319.80,33.70 364.20,50.50 408.80,74.90 453.70,106.70 498.00,149.20 542.90,184.70"/>
<path d="M319.80,30.50 L323.00,33.70 L319.80,36.90 L316.60,33.70 Z" fill="#ee1c24"/>
<path d="M364.20,47.30 L367.40,50.50 L364.20,53.70 L361.00,50.50 Z" fill="#ee1c24"/>
<path d="M408.80,71.70 L412.00,74.90 L408.80,78.10 L405.60,74.90 Z" fill="#ee1c24"/>
<path d="M453.70,103.50 L456.90,106.70 L453.70,109.90 L450.50,106.70 Z" fill="#ee1c24"/>
<path d="M498.00,146.00 L501.20,149.20 L498.00,152.40 L494.80,149.20 Z" fill="#ee1c24"/>
<path d="M542.90,181.50 L546.10,184.70 L542.90,187.90 L539.70,184.70 Z" fill="#ee1c24"/>
<polyline fill="none" stroke="#111111" stroke-width="1.8" stroke-linejoin="round" points="319.80,146.90 364.20,164.10 408.80,189.70 453.70,217.70"/>
<rect x="317.70" y="144.80" width="4.20" height="4.20" fill="#111111"/>
<rect x="362.10" y="162.00" width="4.20" height="4.20" fill="#111111"/>
<rect x="406.70" y="187.60" width="4.20" height="4.20" fill="#111111"/>
<rect x="451.60" y="215.60" width="4.20" height="4.20" fill="#111111"/>
<!-- legend -->
<rect x="453.8" y="9.7" width="111.2" height="73.1" fill="#fff" stroke="#777" stroke-width="1"/>
<line x1="457.3" y1="19.4" x2="481.5" y2="19.4" stroke="#111111" stroke-width="1.6"/>
<rect x="467.30" y="17.30" width="4.20" height="4.20" fill="#111111"/>
<text x="484.2" y="23.2" font-size="10.6" fill="#1e1e1e" stroke="#1e1e1e" stroke-width="0.15">water</text>
<line x1="457.3" y1="33.5" x2="481.5" y2="33.5" stroke="#f5891e" stroke-width="1.6"/>
<circle cx="469.40" cy="33.50" r="2.7" fill="#f5891e"/>
<text x="484.2" y="37.3" font-size="10.6" fill="#1e1e1e" stroke="#1e1e1e" stroke-width="0.15">0.015% CuO</text>
<line x1="457.3" y1="47.6" x2="481.5" y2="47.6" stroke="#1a1ae6" stroke-width="1.6"/>
<path d="M469.40,44.60 L472.40,49.85 L466.40,49.85 Z" fill="#1a1ae6"/>
<text x="484.2" y="51.4" font-size="10.6" fill="#1e1e1e" stroke="#1e1e1e" stroke-width="0.15">0.015% CuO/Ag</text>
<line x1="457.3" y1="61.7" x2="481.5" y2="61.7" stroke="#f01ef0" stroke-width="1.6"/>
<path d="M469.40,64.70 L472.40,59.45 L466.40,59.45 Z" fill="#f01ef0"/>
<text x="484.2" y="65.5" font-size="10.6" fill="#1e1e1e" stroke="#1e1e1e" stroke-width="0.15">0.02% CuO/Ag</text>
<line x1="457.3" y1="75.8" x2="481.5" y2="75.8" stroke="#ee1c24" stroke-width="1.6"/>
<path d="M469.40,72.60 L472.60,75.80 L469.40,79.00 L466.20,75.80 Z" fill="#ee1c24"/>
<text x="484.2" y="79.6" font-size="10.6" fill="#1e1e1e" stroke="#1e1e1e" stroke-width="0.15">0.025% CuO/Ag</text>
<rect x="297.4" y="9.7" width="267.6" height="214.5" fill="none" stroke="#666" stroke-width="1.6"/>
</svg>
</body></html>
